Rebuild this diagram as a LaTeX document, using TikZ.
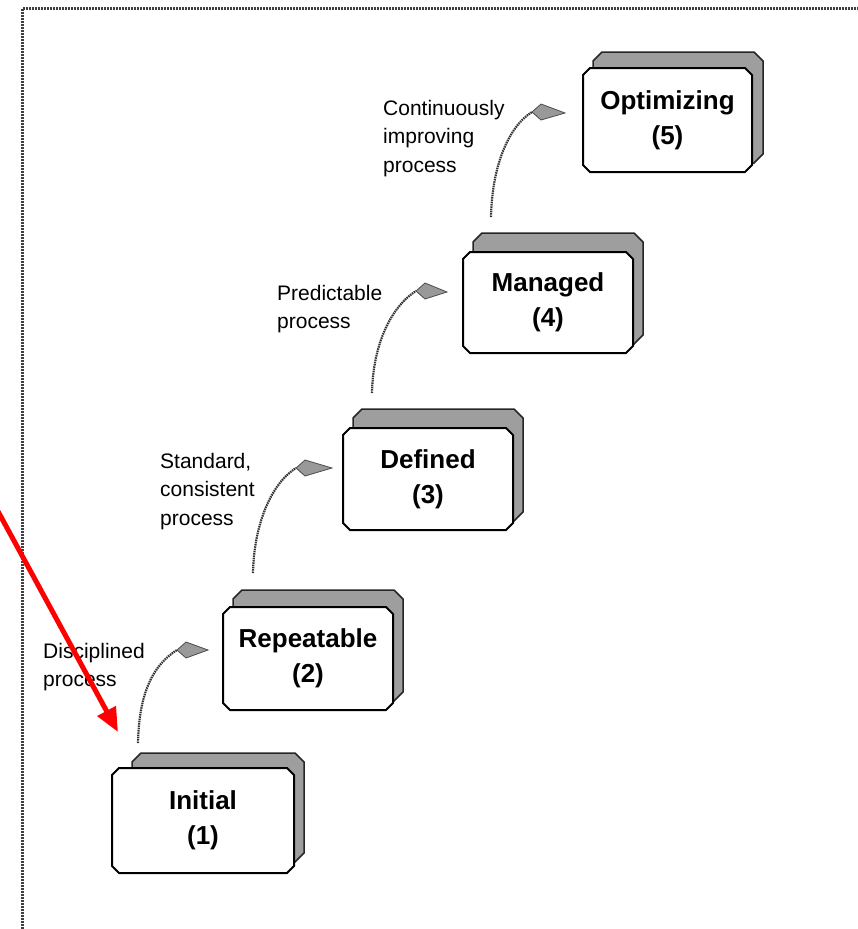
\documentclass[tikz,border=0pt]{standalone}
\usepackage{fontspec}
\setmainfont{Liberation Sans}
\usetikzlibrary{calc,arrows.meta}
% chamfered card outline: style, left, top, right, bottom, chamfer
\newcommand{\cardoutline}[6]{%
  \draw[#1] (#2+#6,#3) -- (#4-#6,#3) -- (#4,#3+#6) -- (#4,#5-#6)
    -- (#4-#6,#5) -- (#2+#6,#5) -- (#2,#5-#6) -- (#2,#3+#6) -- cycle;}
\begin{document}
\begin{tikzpicture}[x=1pt,y=-1pt,
  cardfront/.style={draw=black, line width=2pt, fill=white, line join=miter},
  cardback/.style={draw=black!85, line width=1.5pt, fill=black!38},
  stage/.style={inner sep=0pt, align=center,
    font=\fontsize{26}{35}\selectfont\bfseries},
  note/.style={anchor=north west, inner sep=0pt, align=left,
    font=\fontsize{21}{28.5}\selectfont},
  flow/.style={draw=black!80, line width=2.2pt, dash pattern=on 1.5pt off 0.8pt},
  flowhead/.style={fill=black!40, draw=black!70, line width=0.8pt},
  pointer/.style={draw=red, line width=5pt, -{Triangle[length=24pt,width=20pt]}},
  frameline/.style={draw=black!75, line width=3pt, dash pattern=on 2pt off 1pt}]

\path[use as bounding box, clip] (0,0) rectangle (858,929);

% page frame (top and left edges only)
\draw[frameline] (22,929) -- (22,8.5) -- (858,8.5);

% stage cards: shadow card first, then the white card on top
\cardoutline{cardback}{132}{753}{304}{862}{9}
\cardoutline{cardfront}{112}{768}{294}{873}{7}
\cardoutline{cardback}{233}{590}{403}{701}{9}
\cardoutline{cardfront}{223}{607}{393}{710}{7}
\cardoutline{cardback}{353}{409}{523}{521}{9}
\cardoutline{cardfront}{343}{428}{513}{530}{7}
\cardoutline{cardback}{473}{233}{643}{344}{9}
\cardoutline{cardfront}{463}{252}{633}{353}{7}
\cardoutline{cardback}{593}{52}{763}{163}{9}
\cardoutline{cardfront}{583}{68}{752}{172}{7}

% maturity stages
\node[stage, minimum width=182pt, minimum height=105pt] (initial) at (203,820.5) {Initial\\(1)};
\node[stage, minimum width=170pt, minimum height=103pt] (repeatable) at (308,658.5) {Repeatable\\(2)};
\node[stage, minimum width=170pt, minimum height=102pt] (defined) at (428,479) {Defined\\(3)};
\node[stage, minimum width=170pt, minimum height=101pt] (managed) at (548,302.5) {Managed\\(4)};
\node[stage, minimum width=169pt, minimum height=104pt] (optimizing) at (667.5,120) {Optimizing\\(5)};

% transition labels
\node[note] (disciplined) at (43,643) {Disciplined\\process};
\node[note] (standard) at (160,453) {Standard,\\consistent\\process};
\node[note] (predictable) at (277,285) {Predictable\\process};
\node[note] (continuous) at (383,100) {Continuously\\improving\\process};

% transition arrows: start, head base, head tip
\coordinate (s1) at (138,743); \coordinate (b1) at (177,650); \coordinate (t1) at (208,650);
\coordinate (s2) at (253,573); \coordinate (b2) at (296,468); \coordinate (t2) at (332,468);
\coordinate (s3) at (372,393); \coordinate (b3) at (416,291); \coordinate (t3) at (447,292);
\coordinate (s4) at (491,217); \coordinate (b4) at (532,112); \coordinate (t4) at (565,113);

\foreach \i in {1,2,3,4} {
  \draw[flow] (s\i) .. controls ($(s\i)+(1,-50)$) and ($(b\i)+(-24,15)$) .. (b\i);
  \filldraw[flowhead] (b\i) -- ($(b\i)+(9,-8)$) -- (t\i) -- ($(b\i)+(9,8)$) -- cycle;
}

% red pointer
\coordinate (redstart) at (-6,504);
\coordinate (redtip) at (118,732);
\draw[pointer] (redstart) -- (redtip);
\end{tikzpicture}
\end{document}
